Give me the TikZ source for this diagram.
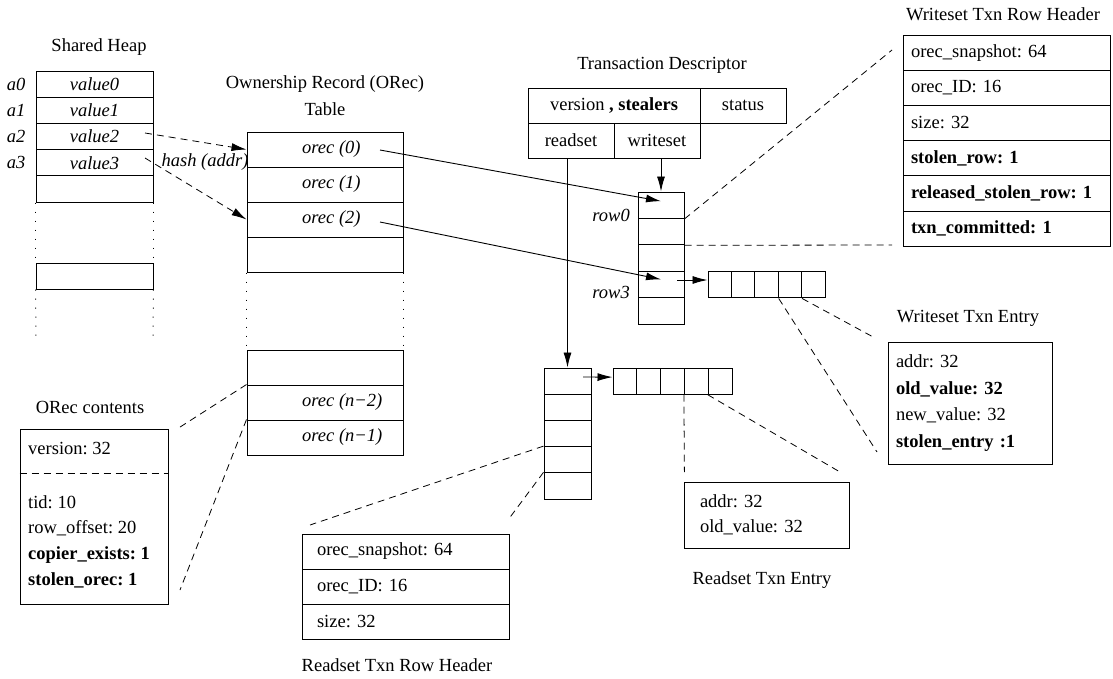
\documentclass[tikz,border=0pt]{standalone}
\usepackage{fontspec}
\setmainfont{Liberation Serif}
\usetikzlibrary{arrows.meta}
\frenchspacing
\begin{document}
\begin{tikzpicture}[x=1pt,y=-1pt,
  every node/.style={font=\fontsize{18.5}{26}\selectfont\frenchspacing, inner sep=0pt},
  cell/.style={draw, line width=1pt, rectangle, inner sep=0pt},
  dashln/.style={line width=0.8pt, dash pattern=on 7pt off 5pt},
  dotln/.style={line width=1pt, dash pattern=on 1pt off 8pt},
  arr/.style={-{Latex[length=15pt,width=8pt]}, line width=0.9pt},
  darr/.style={-{Latex[length=15pt,width=8pt]}, line width=0.8pt, dash pattern=on 7pt off 5pt},
]
\useasboundingbox (0,0) rectangle (1113,678);

% ---------- Shared heap ----------
\node (tHeap) at (99,47) {Shared Heap};
\node[cell, minimum width=117pt, minimum height=26.2pt] (h0) at (94.5,84.1) {\itshape value0};
\node[cell, minimum width=117pt, minimum height=26.2pt] (h1) at (94.5,110.3) {\itshape value1};
\node[cell, minimum width=117pt, minimum height=26.2pt] (h2) at (94.5,136.5) {\itshape value2};
\node[cell, minimum width=117pt, minimum height=26.2pt] (h3) at (94.5,162.7) {\itshape value3};
\node[cell, minimum width=117pt, minimum height=26.2pt] (h4) at (94.5,188.9) {};
\node[cell, minimum width=117pt, minimum height=26pt] (hL) at (94.5,276) {};
\node (a0) at (16,84.1) {\itshape a0};
\node (a1) at (16,110.3) {\itshape a1};
\node (a2) at (16,136.5) {\itshape a2};
\node (a3) at (16,162.7) {\itshape a3};
\draw[dotln] (h4.south west) -- (hL.north west);
\draw[dotln] (h4.south east) -- (hL.north east);
\coordinate (hEndW) at (36,337);
\coordinate (hEndE) at (153,337);
\draw[dotln] (hL.south west) -- (hEndW);
\draw[dotln] (hL.south east) -- (hEndE);

% ---------- ORec table ----------
\node[align=center, font=\fontsize{18.5}{27}\selectfont] (tOrec) at (325,95.5) {Ownership Record (ORec)\\Table};
\node[cell, minimum width=156pt, minimum height=35pt] (o0) at (325,149.5) {};
\node[cell, minimum width=156pt, minimum height=35pt] (o1) at (325,184.5) {};
\node[cell, minimum width=156pt, minimum height=35pt] (o2) at (325,219.5) {};
\node[cell, minimum width=156pt, minimum height=35pt] (o3) at (325,254.5) {};
\node[cell, minimum width=156pt, minimum height=35pt] (on1) at (325,367.5) {};
\node[cell, minimum width=156pt, minimum height=35pt] (on2) at (325,402.5) {};
\node[cell, minimum width=156pt, minimum height=35pt] (on3) at (325,437.5) {};
\node[anchor=west] (o0t) at (302,149.5) {\itshape orec (0)};
\node[anchor=west] (o1t) at (302,184.5) {\itshape orec (1)};
\node[anchor=west] (o2t) at (302,219.5) {\itshape orec (2)};
\node[anchor=west] (on2t) at (302,402.5) {\itshape orec (n−2)};
\node[anchor=west] (on3t) at (302,437.5) {\itshape orec (n−1)};
\draw[dotln] (o3.south west) -- (on1.north west);
\draw[dotln] (o3.south east) -- (on1.north east);

\node (hash) at (205,162) {\itshape hash (addr)};
\coordinate (hp2) at (145,133);
\coordinate (hp3) at (145,158);
\draw[darr] (hp2) -- (o0.west);
\draw[darr] (hp3) -- (o2.west);

% ---------- ORec contents ----------
\node (tOc) at (90,407) {ORec contents};
\node[cell, minimum width=148pt, minimum height=175pt] (oc) at (94,516.5) {};
\draw[dashln] (oc.west |- 0,473) -- (oc.east |- 0,473);
\node[anchor=west] (ocv) at (28,448) {version: 32};
\node[anchor=west, align=left, font=\fontsize{18.5}{25.7}\selectfont\frenchspacing] (ocr) at (28,541.5)
  {tid: 10\\row\_offset: 20\\\textbf{copier\_exists: 1}\\\textbf{stolen\_orec: 1}};
\coordinate (ocA) at (177,429);
\coordinate (ocB) at (180,590);
\draw[dashln] (on2.north west) -- (ocA);
\draw[dashln] (on3.north west) -- (ocB);

% ---------- Transaction descriptor ----------
\node (tTd) at (662,65) {Transaction Descriptor};
\node[cell, minimum width=172pt, minimum height=35pt] (tdv) at (614,105.5) {version \textbf{, stealers}};
\node[cell, minimum width=86pt, minimum height=35pt] (tds) at (743,105.5) {status};
\node[cell, minimum width=86pt, minimum height=35pt] (tdr) at (571,140.5) {readset};
\node[cell, minimum width=86pt, minimum height=35pt] (tdw) at (657,140.5) {writeset};

% ---------- Writeset array ----------
\foreach \i in {0,...,4}{
  \node[cell, minimum width=46pt, minimum height=26.4pt] (ws\i) at (661,{205.2+26.4*\i}) {};
}
\node[anchor=east] (r0) at (630,215) {\itshape row0};
\node[anchor=east] (r3) at (630,292) {\itshape row3};
\draw[arr] (ws0.north |- tdw.south) -- (ws0.north);

\coordinate (o0p) at (380,150);
\coordinate (o2p) at (380,222);
\draw[arr] (o0p) -- ([yshift=4pt]ws0.center);
\draw[arr] (o2p) -- ([yshift=5pt]ws3.center);

\foreach \i in {0,...,4}{
  \node[cell, minimum width=23.4pt, minimum height=26.5pt] (we\i) at ({719.7+23.4*\i},284.7) {};
}
\coordinate (ws3p) at (677,280);
\draw[arr] (ws3p) -- ([yshift=4.7pt]we0.west);

% ---------- Writeset Txn Row Header ----------
\node (tWh) at (1003,14) {Writeset Txn Row Header};
\node[cell, minimum width=207pt, minimum height=35.2pt, text width=191pt, inner xsep=8pt, align=left] (wh0) at (1006.5,52.6) {orec\_snapshot: 64};
\node[cell, minimum width=207pt, minimum height=35.2pt, text width=191pt, inner xsep=8pt, align=left] (wh1) at (1006.5,87.8) {orec\_ID: 16};
\node[cell, minimum width=207pt, minimum height=35.2pt, text width=191pt, inner xsep=8pt, align=left] (wh2) at (1006.5,123) {size: 32};
\node[cell, minimum width=207pt, minimum height=35.2pt, text width=191pt, inner xsep=8pt, align=left] (wh3) at (1006.5,158.2) {\textbf{stolen\_row: 1}};
\node[cell, minimum width=207pt, minimum height=35.2pt, text width=191pt, inner xsep=8pt, align=left] (wh4) at (1006.5,193.4) {\textbf{released\_stolen\_row: 1}};
\node[cell, minimum width=207pt, minimum height=35.2pt, text width=191pt, inner xsep=8pt, align=left] (wh5) at (1006.5,228.6) {\textbf{txn\_committed: 1}};
\coordinate (whA) at (892,50);
\coordinate (whB) at (892,245);
\draw[dashln] (ws0.south east) -- (whA);
\draw[dashln] (ws1.south east) -- (whB);

% ---------- Writeset Txn Entry ----------
\node (tWe) at (968,318) {Writeset Txn Entry};
\node[cell, minimum width=164pt, minimum height=122pt, text width=148pt, inner xsep=8pt, align=left, font=\fontsize{18.5}{26.7}\selectfont\frenchspacing] (wentry) at (970,403)
  {addr: 32\\\textbf{old\_value: 32}\\new\_value: 32\\\textbf{stolen\_entry :1}};
\coordinate (weA) at (875,338);
\coordinate (weB) at (877,452);
\draw[dashln] (we3.south east) -- (weA);
\draw[dashln] (we2.south east) -- (weB);

% ---------- Readset array ----------
\foreach \i in {0,...,4}{
  \node[cell, minimum width=47pt, minimum height=26.2pt] (rs\i) at (567.5,{381.1+26.2*\i}) {};
}
\draw[arr] (rs0.north |- tdr.south) -- (rs0.north);
\foreach \i in {0,...,4}{
  \node[cell, minimum width=23.8pt, minimum height=26.2pt] (re\i) at ({624.9+23.8*\i},381.1) {};
}
\coordinate (rs0p) at (583,377);
\draw[arr] (rs0p) -- ([yshift=4pt]re0.west);

% ---------- Readset Txn Entry ----------
\node[cell, minimum width=165pt, minimum height=66pt, text width=133pt, inner xsep=16pt, align=left, font=\fontsize{18.5}{25}\selectfont\frenchspacing] (rentry) at (766.5,515)
  {addr: 32\\old\_value: 32};
\node (tRe) at (762,580) {Readset Txn Entry};
\coordinate (reA) at (684.4,472);
\coordinate (reB) at (840,472);
\draw[dashln] (re3.south west) -- (reA);
\draw[dashln] (re4.south west) -- (reB);

% ---------- Readset Txn Row Header ----------
\node[cell, minimum width=207pt, minimum height=35pt, text width=177pt, inner xsep=15pt, align=left] (rh0) at (405.5,551.5) {orec\_snapshot: 64};
\node[cell, minimum width=207pt, minimum height=35pt, text width=177pt, inner xsep=15pt, align=left] (rh1) at (405.5,586.5) {orec\_ID: 16};
\node[cell, minimum width=207pt, minimum height=35pt, text width=177pt, inner xsep=15pt, align=left] (rh2) at (405.5,621.5) {size: 32};
\node (tRh) at (397,665) {Readset Txn Row Header};
\coordinate (rhA) at (310,525);
\coordinate (rhB) at (508,520);
\draw[dashln] (rs3.north west) -- (rhA);
\draw[dashln] (rs4.north west) -- (rhB);
\end{tikzpicture}
\end{document}
